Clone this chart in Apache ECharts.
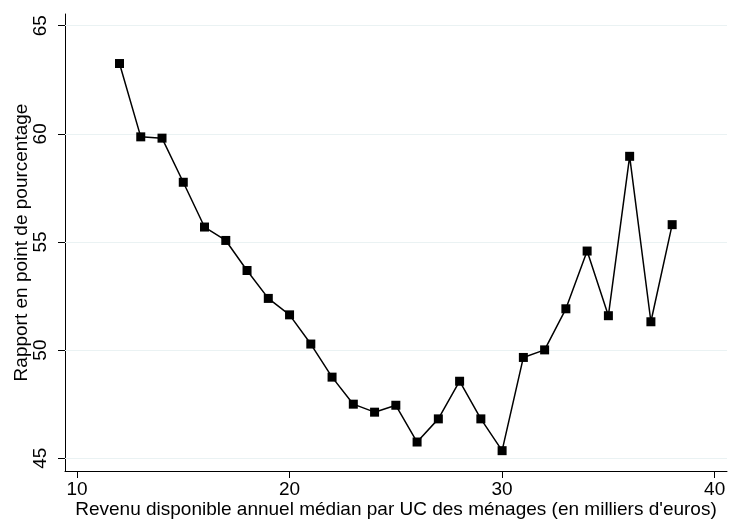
<!DOCTYPE html>
<html>
<head>
<meta charset="utf-8">
<script src="https://cdn.jsdelivr.net/npm/echarts@6/dist/echarts.min.js"></script>
<style>html,body{margin:0;padding:0;background:#fff}#c{width:729px;height:521px}</style>
</head>
<body>
<div id="c"></div>
<script>
const xValues = [12,13,14,15,16,17,18,19,20,21,22,23,24,25,26,27,28,29,30,31,32,33,34,35,36,37,38];
const yValues = [63.25,59.86,59.8,57.76,55.69,55.07,53.68,52.39,51.63,50.28,48.75,47.5,47.13,47.45,45.75,46.82,48.56,46.82,45.35,49.66,50.01,51.91,54.58,51.59,58.96,51.31,55.8];
const xTicks = [10,20,30,40];
const yTicks = [45,50,55,60,65];
const xTitle = "Revenu disponible annuel médian par UC des ménages (en milliers d'euros)";
const yTitle = "Rapport en point de pourcentage";

const chart = echarts.init(document.getElementById('c'), null, {renderer:'canvas'});
const font = 'Liberation Sans, Arial, sans-serif';
chart.setOption({
  animation:false,
  backgroundColor:'#ffffff',
  grid:{left:65,right:2,top:14,bottom:50,containLabel:false,outerBoundsMode:'none'},
  xAxis:{
    type:'value', min:9.436, max:40.58,
    axisLine:{show:true,onZero:false,lineStyle:{color:'#000',width:1}},
    axisTick:{show:true,length:7,lineStyle:{color:'#000'},customValues:xTicks},
    axisLabel:{customValues:xTicks,color:'#000',fontSize:19,fontFamily:font,margin:9},
    splitLine:{show:false},
    name:xTitle,nameLocation:'middle',nameGap:29,nameMoveOverlap:false,
    nameTextStyle:{color:'#000',fontSize:19,fontFamily:font}
  },
  yAxis:{
    type:'value', min:44.41, max:65.54,
    axisLine:{show:true,onZero:false,lineStyle:{color:'#000',width:1}},
    axisTick:{show:true,length:7,lineStyle:{color:'#000'},customValues:yTicks},
    axisLabel:{customValues:yTicks,rotate:90,color:'#000',fontSize:19,fontFamily:font,margin:15},
    splitLine:{show:false},
    name:yTitle,nameLocation:'middle',nameGap:34,nameRotate:90,nameMoveOverlap:false,
    nameTextStyle:{color:'#000',fontSize:19,fontFamily:font}
  },
  series:[{
    type:'line',
    data:xValues.map((x,i)=>[x,yValues[i]]),
    symbol:'rect',symbolSize:9,
    lineStyle:{color:'#000',width:1.5},
    itemStyle:{color:'#000'},
    z:3,
    markLine:{
      silent:true,symbol:['none','none'],label:{show:false},
      lineStyle:{color:'#eaf2f3',width:1.2,type:'solid'},
      data:yTicks.map(v=>({yAxis:v})),
      z:1
    }
  }]
});
</script>
</body>
</html>
